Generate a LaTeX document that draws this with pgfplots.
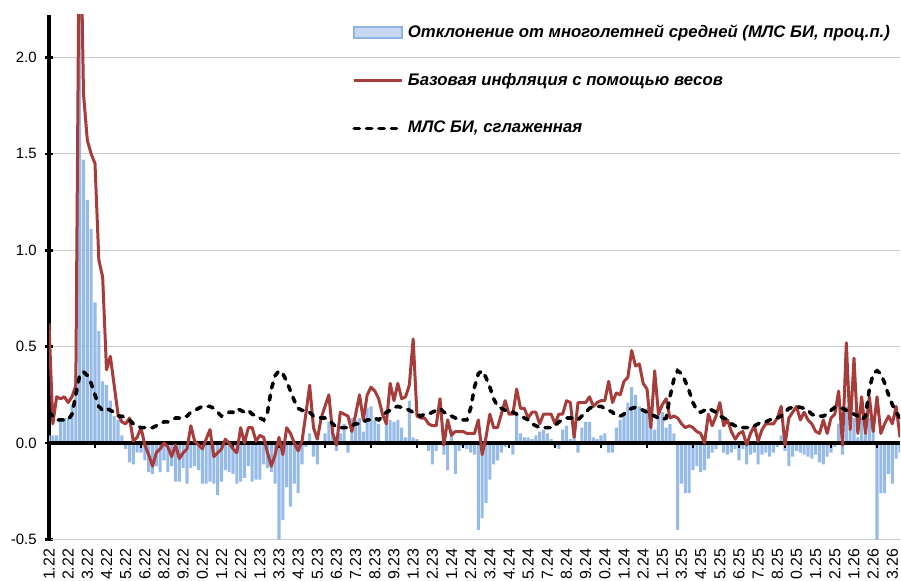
\documentclass[border=0pt]{standalone}
\usepackage{pgfplots}
\usepackage{pgfplotstable}
\pgfplotsset{compat=1.18}
\usepackage{fontspec}
\setmainfont{Liberation Sans}

\definecolor{barfill}{RGB}{150,187,232}
\definecolor{legfill}{RGB}{198,217,241}
\definecolor{legline}{RGB}{141,180,226}
\definecolor{corered}{RGB}{166,61,58}
\definecolor{gridgray}{RGB}{204,204,204}

\pgfplotsset{
    lineleg/.style={legend image code/.code={\draw[##1] (0bp,0bp) -- (24bp,0bp);}},
    barleg/.style={legend image code/.code={\draw[fill=legfill, draw=legline, line width=1bp]
        (0bp,-2.6bp) rectangle (24bp,2.6bp);}},
}

% week, deviation (bars), core inflation, smoothed
\pgfplotstableread{
i dev core smooth
0 0.04 0.62 0.16
1 0.04 0.10 0.14
2 0.04 0.24 0.12
3 0.13 0.23 0.12
4 0.13 0.24 0.12
5 0.13 0.21 0.12
6 0.20 0.24 0.15
7 0.35 0.30 0.25
8 2.60 3.00 0.35
9 1.47 1.81 0.37
10 1.26 1.57 0.35
11 1.11 1.50 0.31
12 0.73 1.45 0.25
13 0.58 0.95 0.19
14 0.32 0.86 0.17
15 0.30 0.38 0.18
16 0.22 0.45 0.17
17 0.14 0.30 0.16
18 0.12 0.15 0.14
19 0.04 0.11 0.14
20 -0.03 0.10 0.13
21 -0.10 0.13 0.12
22 -0.11 0.01 0.10
23 -0.05 0.03 0.09
24 -0.05 0.08 0.08
25 -0.09 -0.01 0.08
26 -0.15 -0.06 0.08
27 -0.16 -0.12 0.08
28 -0.12 -0.05 0.09
29 -0.15 -0.03 0.10
30 -0.09 0.00 0.11
31 -0.15 -0.02 0.11
32 -0.12 -0.07 0.12
33 -0.20 -0.01 0.13
34 -0.20 -0.08 0.13
35 -0.13 -0.05 0.14
36 -0.21 -0.03 0.14
37 -0.13 0.09 0.16
38 -0.12 0.01 0.17
39 -0.14 -0.01 0.18
40 -0.21 -0.03 0.19
41 -0.21 0.02 0.19
42 -0.20 0.07 0.19
43 -0.21 -0.07 0.18
44 -0.27 -0.05 0.16
45 -0.20 -0.03 0.14
46 -0.14 0.02 0.15
47 -0.15 0.00 0.16
48 -0.16 -0.03 0.16
49 -0.21 -0.05 0.18
50 -0.20 0.08 0.17
51 -0.18 0.00 0.16
52 -0.12 0.08 0.17
53 -0.20 0.08 0.15
54 -0.19 0.01 0.14
55 -0.19 0.04 0.13
56 -0.11 0.03 0.12
57 -0.13 -0.05 0.16
58 -0.15 -0.12 0.28
59 -0.21 -0.06 0.35
60 -0.50 0.03 0.375
61 -0.40 -0.06 0.36
62 -0.23 0.08 0.32
63 -0.33 0.05 0.27
64 -0.21 0.00 0.22
65 -0.26 -0.04 0.18
66 -0.11 0.01 0.17
67 -0.02 0.15 0.17
68 0.05 0.30 0.16
69 -0.07 0.08 0.14
70 -0.11 0.02 0.14
71 0.01 0.13 0.13
72 0.05 0.19 0.13
73 0.11 0.25 0.12
74 0.08 0.05 0.10
75 -0.04 -0.01 0.08
76 0.05 0.16 0.08
77 0.10 0.15 0.08
78 -0.05 0.14 0.08
79 0.13 0.06 0.09
80 0.12 0.15 0.10
81 0.13 0.25 0.10
82 0.06 0.12 0.11
83 0.18 0.25 0.12
84 0.19 0.29 0.12
85 0.12 0.27 0.13
86 0.10 0.23 0.12
87 -0.01 0.15 0.14
88 0.14 0.10 0.16
89 0.12 0.31 0.17
90 0.11 0.22 0.185
91 0.12 0.31 0.19
92 0.08 0.23 0.185
93 0.03 0.24 0.18
94 0.22 0.30 0.17
95 0.03 0.54 0.16
96 0.02 0.14 0.15
97 0.01 0.13 0.14
98 0.00 0.13 0.15
99 -0.04 0.10 0.15
100 -0.11 0.09 0.16
101 -0.04 0.09 0.17
102 0.00 0.23 0.18
103 -0.06 -0.01 0.16
104 -0.14 0.12 0.15
105 0.07 0.04 0.14
106 -0.16 0.06 0.13
107 -0.04 0.06 0.12
108 -0.02 0.06 0.12
109 -0.03 0.05 0.12
110 -0.05 0.05 0.18
111 -0.06 0.05 0.29
112 -0.45 0.12 0.36
113 -0.39 -0.06 0.375
114 -0.31 0.03 0.34
115 -0.19 0.15 0.29
116 -0.11 0.08 0.23
117 -0.09 0.08 0.19
118 -0.05 0.15 0.18
119 -0.02 0.22 0.17
120 -0.01 0.15 0.16
121 -0.06 0.15 0.16
122 0.16 0.28 0.15
123 0.05 0.18 0.14
124 0.03 0.18 0.13
125 0.03 0.13 0.12
126 0.02 0.16 0.10
127 0.04 0.16 0.09
128 0.06 0.10 0.08
129 0.07 0.15 0.08
130 0.05 0.15 0.08
131 0.02 0.15 0.08
132 -0.02 0.10 0.09
133 -0.03 0.15 0.11
134 0.07 0.15 0.12
135 0.09 0.22 0.13
136 0.02 0.21 0.13
137 0.10 0.03 0.13
138 -0.05 0.21 0.12
139 0.08 0.21 0.14
140 0.11 0.21 0.16
141 0.11 0.24 0.18
142 0.03 0.19 0.19
143 0.02 0.21 0.19
144 0.04 0.22 0.19
145 0.05 0.22 0.18
146 -0.05 0.32 0.17
147 -0.05 0.21 0.16
148 0.08 0.26 0.14
149 0.12 0.25 0.14
150 0.16 0.32 0.15
151 0.21 0.34 0.17
152 0.29 0.48 0.18
153 0.25 0.40 0.185
154 0.19 0.41 0.18
155 0.17 0.31 0.17
156 0.18 0.28 0.16
157 0.10 0.08 0.15
158 0.07 0.375 0.14
159 0.18 0.15 0.13
160 0.16 0.20 0.12
161 0.08 0.23 0.13
162 0.10 0.13 0.24
163 0.05 0.14 0.33
164 -0.45 0.13 0.375
165 -0.21 0.10 0.36
166 -0.26 0.08 0.32
167 -0.26 0.09 0.27
168 -0.14 0.08 0.21
169 -0.12 0.06 0.17
170 -0.15 0.05 0.16
171 -0.14 0.00 0.17
172 -0.08 0.15 0.18
173 -0.05 0.09 0.17
174 -0.03 0.14 0.16
175 0.07 0.21 0.14
176 -0.05 0.09 0.13
177 -0.06 0.12 0.12
178 -0.05 0.06 0.10
179 -0.03 0.02 0.09
180 -0.09 0.05 0.08
181 -0.03 0.06 0.08
182 -0.11 -0.01 0.08
183 -0.06 0.05 0.08
184 -0.05 0.09 0.09
185 -0.11 0.01 0.10
186 -0.06 0.07 0.11
187 -0.05 0.10 0.11
188 -0.07 0.10 0.12
189 -0.05 0.10 0.13
190 -0.02 0.13 0.13
191 0.04 0.19 0.14
192 -0.04 -0.01 0.16
193 -0.12 0.13 0.18
194 -0.07 0.16 0.185
195 -0.04 0.19 0.19
196 -0.05 0.12 0.185
197 -0.06 0.16 0.18
198 -0.07 0.12 0.17
199 -0.08 0.10 0.15
200 -0.06 0.06 0.14
201 -0.10 0.05 0.14
202 -0.11 0.12 0.14
203 -0.07 0.05 0.15
204 -0.05 0.13 0.17
205 -0.02 0.15 0.185
206 0.10 0.27 0.18
207 -0.06 -0.01 0.18
208 0.19 0.52 0.17
209 0.08 0.07 0.16
210 0.13 0.44 0.15
211 0.03 0.05 0.14
212 0.12 0.24 0.12
213 0.05 0.05 0.14
214 0.13 0.24 0.28
215 0.14 0.06 0.36
216 -0.50 0.24 0.375
217 -0.26 0.05 0.36
218 -0.26 0.10 0.31
219 -0.16 0.14 0.25
220 -0.21 0.10 0.20
221 -0.08 0.19 0.16
222 -0.05 0.03 0.13
}\mlsdata

\begin{document}
\begin{tikzpicture}
\begin{axis}[
    scale only axis,
    width=425.5bp, height=262.25bp,
    xmin=0, xmax=222, ymin=-0.5, ymax=2.22,
    axis y line*=left, axis x line*=bottom,
    x axis line style={draw=gridgray, line width=0.5bp, -},
    y axis line style={line width=1.6bp, -},
    ytick={-0.5,0,0.5,1,1.5,2},
    ymajorgrids, grid style={gridgray, line width=0.5bp},
    major tick length=4bp, tick align=center,
    ytick style={line width=1.3bp, black},
    xtick={0,5,...,220},
    % labels as they stand in the picture (its lower edge cuts the month's first digit)
    xticklabels={1.22,2.22,3.22,4.22,5.22,6.22,8.22,9.22,0.22,1.22,2.22,
        1.23,3.23,4.23,5.23,6.23,7.23,8.23,9.23,1.23,2.23,
        1.24,2.24,3.24,4.24,5.24,7.24,8.24,9.24,0.24,1.24,2.24,
        1.25,3.25,4.25,5.25,6.25,7.25,8.25,0.25,1.25,2.25,
        1.26,2.26,3.26},
    xtick style={draw=none},
    xticklabel style={yshift=-2.5bp, rotate=90, anchor=east, inner sep=0pt,
        font=\fontsize{8}{9.6}\selectfont},
    yticklabel style={font=\fontsize{7.5}{9}\selectfont, inner sep=0pt, xshift=-4bp,
        /pgf/number format/.cd, fixed, fixed zerofill, precision=1, assume math mode=true},
    legend style={at={(0.356,0.99)}, anchor=north west, draw=none, fill=none,
        inner sep=0pt, row sep=12.5bp,
        font=\fontsize{8.4}{10}\selectfont\bfseries\itshape,
        /tikz/every even column/.append style={column sep=0pt}},
    legend cell align=left,
]
\addplot[ybar, bar width=0.82, bar shift=0pt, fill=barfill, draw=none, barleg]
    table[x=i, y=dev] {\mlsdata};
\addlegendentry{Отклонение от многолетней средней (МЛС БИ, проц.п.)}

\draw[black, line width=1.6bp] (axis cs:0,0) -- (axis cs:222,0);
\pgfplotsinvokeforeach{12,24,...,216}{
    \draw[black, line width=1.3bp] (axis cs:#1,0) -- ([yshift=-2.6bp]axis cs:#1,0);
}

\addplot[corered, line width=1.5bp, line join=round, lineleg]
    table[x=i, y=core] {\mlsdata};
\addlegendentry{Базовая инфляция с помощью весов}

\addplot[black, line width=1.8bp, line cap=round, dash pattern=on 2.6bp off 3.6bp, lineleg]
    table[x=i, y=smooth] {\mlsdata};
\addlegendentry{МЛС БИ, сглаженная}

\coordinate (sw) at (rel axis cs:0,0);
\coordinate (ne) at (rel axis cs:1,1);
\end{axis}
\pgfresetboundingbox
\path[use as bounding box] ([xshift=-24.5bp, yshift=-20.75bp]sw) rectangle ([xshift=0.5bp, yshift=7.5bp]ne);
\end{tikzpicture}
\end{document}
